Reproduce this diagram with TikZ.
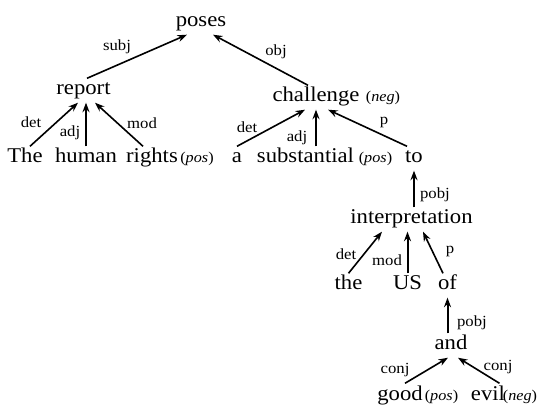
\documentclass[tikz,border=0pt]{standalone}
\usepackage{fontspec}
\setmainfont{Liberation Serif}[FakeStretch=1.08]
\usetikzlibrary{arrows.meta}
\begin{document}
\begin{tikzpicture}[x=1pt,y=-1pt,
  word/.style={anchor=base, inner xsep=1pt, inner ysep=1.5pt, text height=15pt, text depth=6pt, font=\fontsize{21}{21}\selectfont},
  ann/.style={anchor=base, inner sep=0.5pt, font=\fontsize{15}{15}\selectfont},
  lab/.style={inner sep=0pt, font=\fontsize{15.5}{15.5}\selectfont},
  arr/.style={-{Stealth[length=9.5pt,width=7pt]}, line width=1.6pt},
  varr/.style={arr, line width=2pt}]
\useasboundingbox (0,0) rectangle (558,409);
% words
\node[word] (poses) at (201,27) {poses};
\node[word] (report) at (83.5,95) {report};
\node[word] (challenge) at (316,102) {challenge};
\node[ann] (negA) at (383,102) {(\textit{neg})};
\node[word] (The) at (25,163) {The};
\node[word] (human) at (86,163) {human};
\node[word] (rights) at (152,163) {rights};
\node[ann] (posA) at (197,163) {(\textit{pos})};
\node[word] (a) at (237,163) {a};
\node[word] (substantial) at (305.5,163) {substantial};
\node[ann] (posB) at (375.5,163) {(\textit{pos})};
\node[word] (to) at (414,163) {to};
\node[word] (interpretation) at (411.5,224) {interpretation};
\node[word] (the) at (348.5,290) {the};
\node[word] (US) at (407.5,290) {US};
\node[word] (of) at (447.5,290) {of};
\node[word] (and) at (451,350) {and};
\node[word] (good) at (400,400) {good};
\node[ann] (posC) at (441.5,400) {(\textit{pos})};
\node[word] (evil) at (488,400) {evil};
\node[ann] (negB) at (520,400) {(\textit{neg})};
% arrows
\draw[arr] ([xshift=3.5pt]report.north) -- ([xshift=-14pt]poses.south);
\draw[arr] ([xshift=-8pt]challenge.north) -- ([xshift=12pt]poses.south);
\draw[arr] ([xshift=5pt]The.north) -- ([xshift=-5.5pt]report.south);
\draw[varr] (human.north) -- (human.north |- report.south);
\draw[arr] ([xshift=-9pt]rights.north) -- ([xshift=11.5pt]report.south);
\draw[arr] (a.north) -- ([xshift=-11pt]challenge.south);
\draw[varr] (substantial.north -| challenge.south) -- (challenge.south);
\draw[arr] ([xshift=-7pt]to.north) -- ([xshift=12pt]challenge.south);
\draw[varr] (interpretation.north -| to.south) -- (to.south);
\draw[arr] (the.north) -- ([xshift=-29.5pt]interpretation.south);
\draw[varr] (US.north) -- (US.north |- interpretation.south);
\draw[arr] ([xshift=-4.5pt]of.north) -- ([xshift=11.5pt]interpretation.south);
\draw[varr] (and.north -| of.south) -- (of.south);
\draw[arr] ([xshift=5pt]good.north) -- ([xshift=-3pt]and.south);
\draw[arr] ([xshift=11.5pt]evil.north) -- ([xshift=7pt]and.south);
% labels
\node[lab] (l1) at (117,47) {subj};
\node[lab] (l2) at (276,52) {obj};
\node[lab] (l3) at (31,122) {det};
\node[lab] (l4) at (70,133) {adj};
\node[lab] (l5) at (142,123) {mod};
\node[lab] (l6) at (247,127) {det};
\node[lab] (l7) at (297,138) {adj};
\node[lab] (l8) at (384,122) {p};
\node[lab] (l9) at (435,195) {pobj};
\node[lab] (l10) at (346,254) {det};
\node[lab] (l11) at (387,260) {mod};
\node[lab] (l12) at (450,251) {p};
\node[lab] (l13) at (472,323) {pobj};
\node[lab] (l14) at (395,370) {conj};
\node[lab] (l15) at (498,367) {conj};
\end{tikzpicture}
\end{document}
